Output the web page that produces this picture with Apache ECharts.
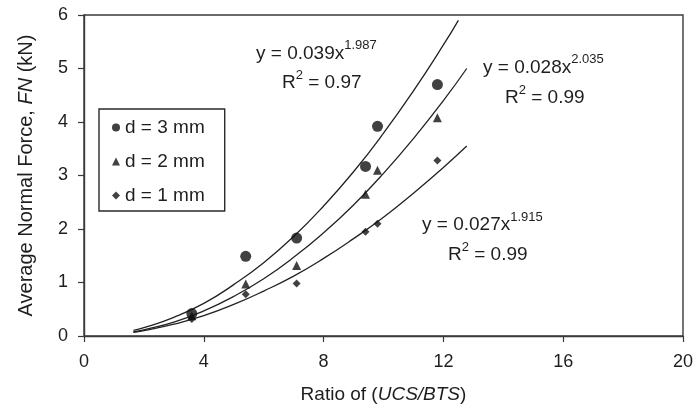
<!DOCTYPE html>
<html><head><meta charset="utf-8">
<script src="https://cdn.jsdelivr.net/npm/echarts@6/dist/echarts.min.js"></script>
<style>html,body{margin:0;padding:0;background:#fff}#c{width:696px;height:409px}</style>
</head><body><div id="c"></div>
<script>
// Measured points (x = UCS/BTS ratio, y = FN kN)
const xRatio = [3.6, 5.4, 7.1, 9.4, 9.8, 11.8];
const d3 = [0.42, 1.49, 1.83, 3.17, 3.92, 4.70];
const d2 = [0.38, 0.97, 1.32, 2.65, 3.10, 4.08];
const d1 = [0.32, 0.78, 0.98, 1.95, 2.10, 3.28];
// Fitted trend curves
const curveX3 = [1.65, 2, 3, 4, 5, 6, 7, 8, 9, 10, 11, 12, 12.5];
const curve3 = [0.105, 0.155, 0.35, 0.61, 0.96, 1.37, 1.86, 2.43, 3.07, 3.79, 4.58, 5.44, 5.90];
const curveX2 = [1.65, 2, 3, 4, 5, 6, 7, 8, 9, 10, 11, 12, 12.78];
const curve2 = [0.078, 0.115, 0.26, 0.47, 0.74, 1.07, 1.47, 1.93, 2.45, 3.04, 3.69, 4.40, 5.00];
const curveX1 = [1.65, 2, 3, 4, 5, 6, 7, 8, 9, 10, 11, 12, 12.78];
const curve1 = [0.07, 0.10, 0.22, 0.38, 0.59, 0.84, 1.12, 1.45, 1.82, 2.22, 2.67, 3.15, 3.55];
const legendNames = ['d = 3 mm', 'd = 2 mm', 'd = 1 mm'];
const xTicks = {min: 0, max: 20, interval: 4};
const yTicks = {min: 0, max: 6, interval: 1};

const FONT = '"Liberation Sans", Arial, sans-serif';
const C = '#1e1e1e';
const zip = (a, b) => a.map((v, i) => [v, b[i]]);

const chart = echarts.init(document.getElementById('c'), null, {renderer: 'canvas'});
const curveStyle = {color: '#222', width: 1.3};
const A = {fontSize: 19, fontFamily: FONT, fill: C, verticalAlign: 'bottom', lineHeight: 24};
const S = {fontSize: 13, fontFamily: FONT, fill: C, verticalAlign: 'top', lineHeight: 24};
const eq = (pre, sup) => ({text: '{a|' + pre + '}{s|' + sup + '}', rich: {a: A, s: S}, verticalAlign: 'middle', align: 'left'});
const r2 = (val) => ({text: '{a|R}{s|2}{a| = ' + val + '}', rich: {a: A, s: S}, verticalAlign: 'middle', align: 'left'});

chart.setOption({
  animation: false,
  backgroundColor: '#fff',
  grid: {left: 84, top: 15, right: 7, bottom: 72, show: true, borderColor: '#3a3a3a', borderWidth: 1.4},
  xAxis: {
    type: 'value', min: xTicks.min, max: xTicks.max, interval: xTicks.interval,
    name: 'Ratio of ({i|UCS/BTS})', nameLocation: 'middle', nameGap: 49,
    nameTextStyle: {fontSize: 19, fontFamily: FONT, color: C,
      rich: {i: {fontSize: 19, fontFamily: FONT, color: C, fontStyle: 'italic'}}},
    axisLine: {lineStyle: {color: '#3a3a3a', width: 1.4}},
    axisTick: {inside: false, length: 6, lineStyle: {color: '#3a3a3a', width: 1.2}},
    axisLabel: {fontSize: 18, fontFamily: FONT, color: C, margin: 17},
    splitLine: {show: false}
  },
  yAxis: {
    type: 'value', min: yTicks.min, max: yTicks.max, interval: yTicks.interval,
    name: 'Average Normal Force, {i|FN} (kN)', nameLocation: 'middle', nameGap: 48, nameRotate: 90,
    nameTextStyle: {fontSize: 20, fontFamily: FONT, color: C,
      rich: {i: {fontSize: 20, fontFamily: FONT, color: C, fontStyle: 'italic'}}},
    axisLine: {lineStyle: {color: '#3a3a3a', width: 1.4}},
    axisTick: {inside: false, length: 6, lineStyle: {color: '#3a3a3a', width: 1.2}},
    axisLabel: {fontSize: 18, fontFamily: FONT, color: C, margin: 16},
    splitLine: {show: false}
  },
  legend: {
    show: true, data: legendNames, orient: 'vertical', left: 99, top: 109,
    itemGap: 15, itemWidth: 8, itemHeight: 8,
    borderColor: '#2a2a2a', borderWidth: 1.4, padding: [9, 20, 6, 13],
    textStyle: {fontSize: 19, fontFamily: FONT, color: C}
  },
  series: [
    {name: legendNames[0], type: 'scatter', symbol: 'circle', symbolSize: 11, itemStyle: {color: '#111'}, data: zip(xRatio, d3), z: 5},
    {name: legendNames[1], type: 'scatter', symbol: 'triangle', symbolSize: 9, itemStyle: {color: '#111'}, data: zip(xRatio, d2), z: 5},
    {name: legendNames[2], type: 'scatter', symbol: 'diamond', symbolSize: 8, itemStyle: {color: '#111'}, data: zip(xRatio, d1), z: 5},
    {type: 'line', smooth: true, symbol: 'none', lineStyle: curveStyle, data: zip(curveX3, curve3), silent: true},
    {type: 'line', smooth: true, symbol: 'none', lineStyle: curveStyle, data: zip(curveX2, curve2), silent: true},
    {type: 'line', smooth: true, symbol: 'none', lineStyle: curveStyle, data: zip(curveX1, curve1), silent: true}
  ],
  graphic: [
    {type: 'text', x: 256, y: 51, style: eq('y = 0.039x', '1.987')},
    {type: 'text', x: 282, y: 80.5, style: r2('0.97')},
    {type: 'text', x: 483, y: 65, style: eq('y = 0.028x', '2.035')},
    {type: 'text', x: 505, y: 95.5, style: r2('0.99')},
    {type: 'text', x: 422, y: 222.5, style: eq('y = 0.027x', '1.915')},
    {type: 'text', x: 448, y: 252.5, style: r2('0.99')}
  ]
});
</script></body></html>
